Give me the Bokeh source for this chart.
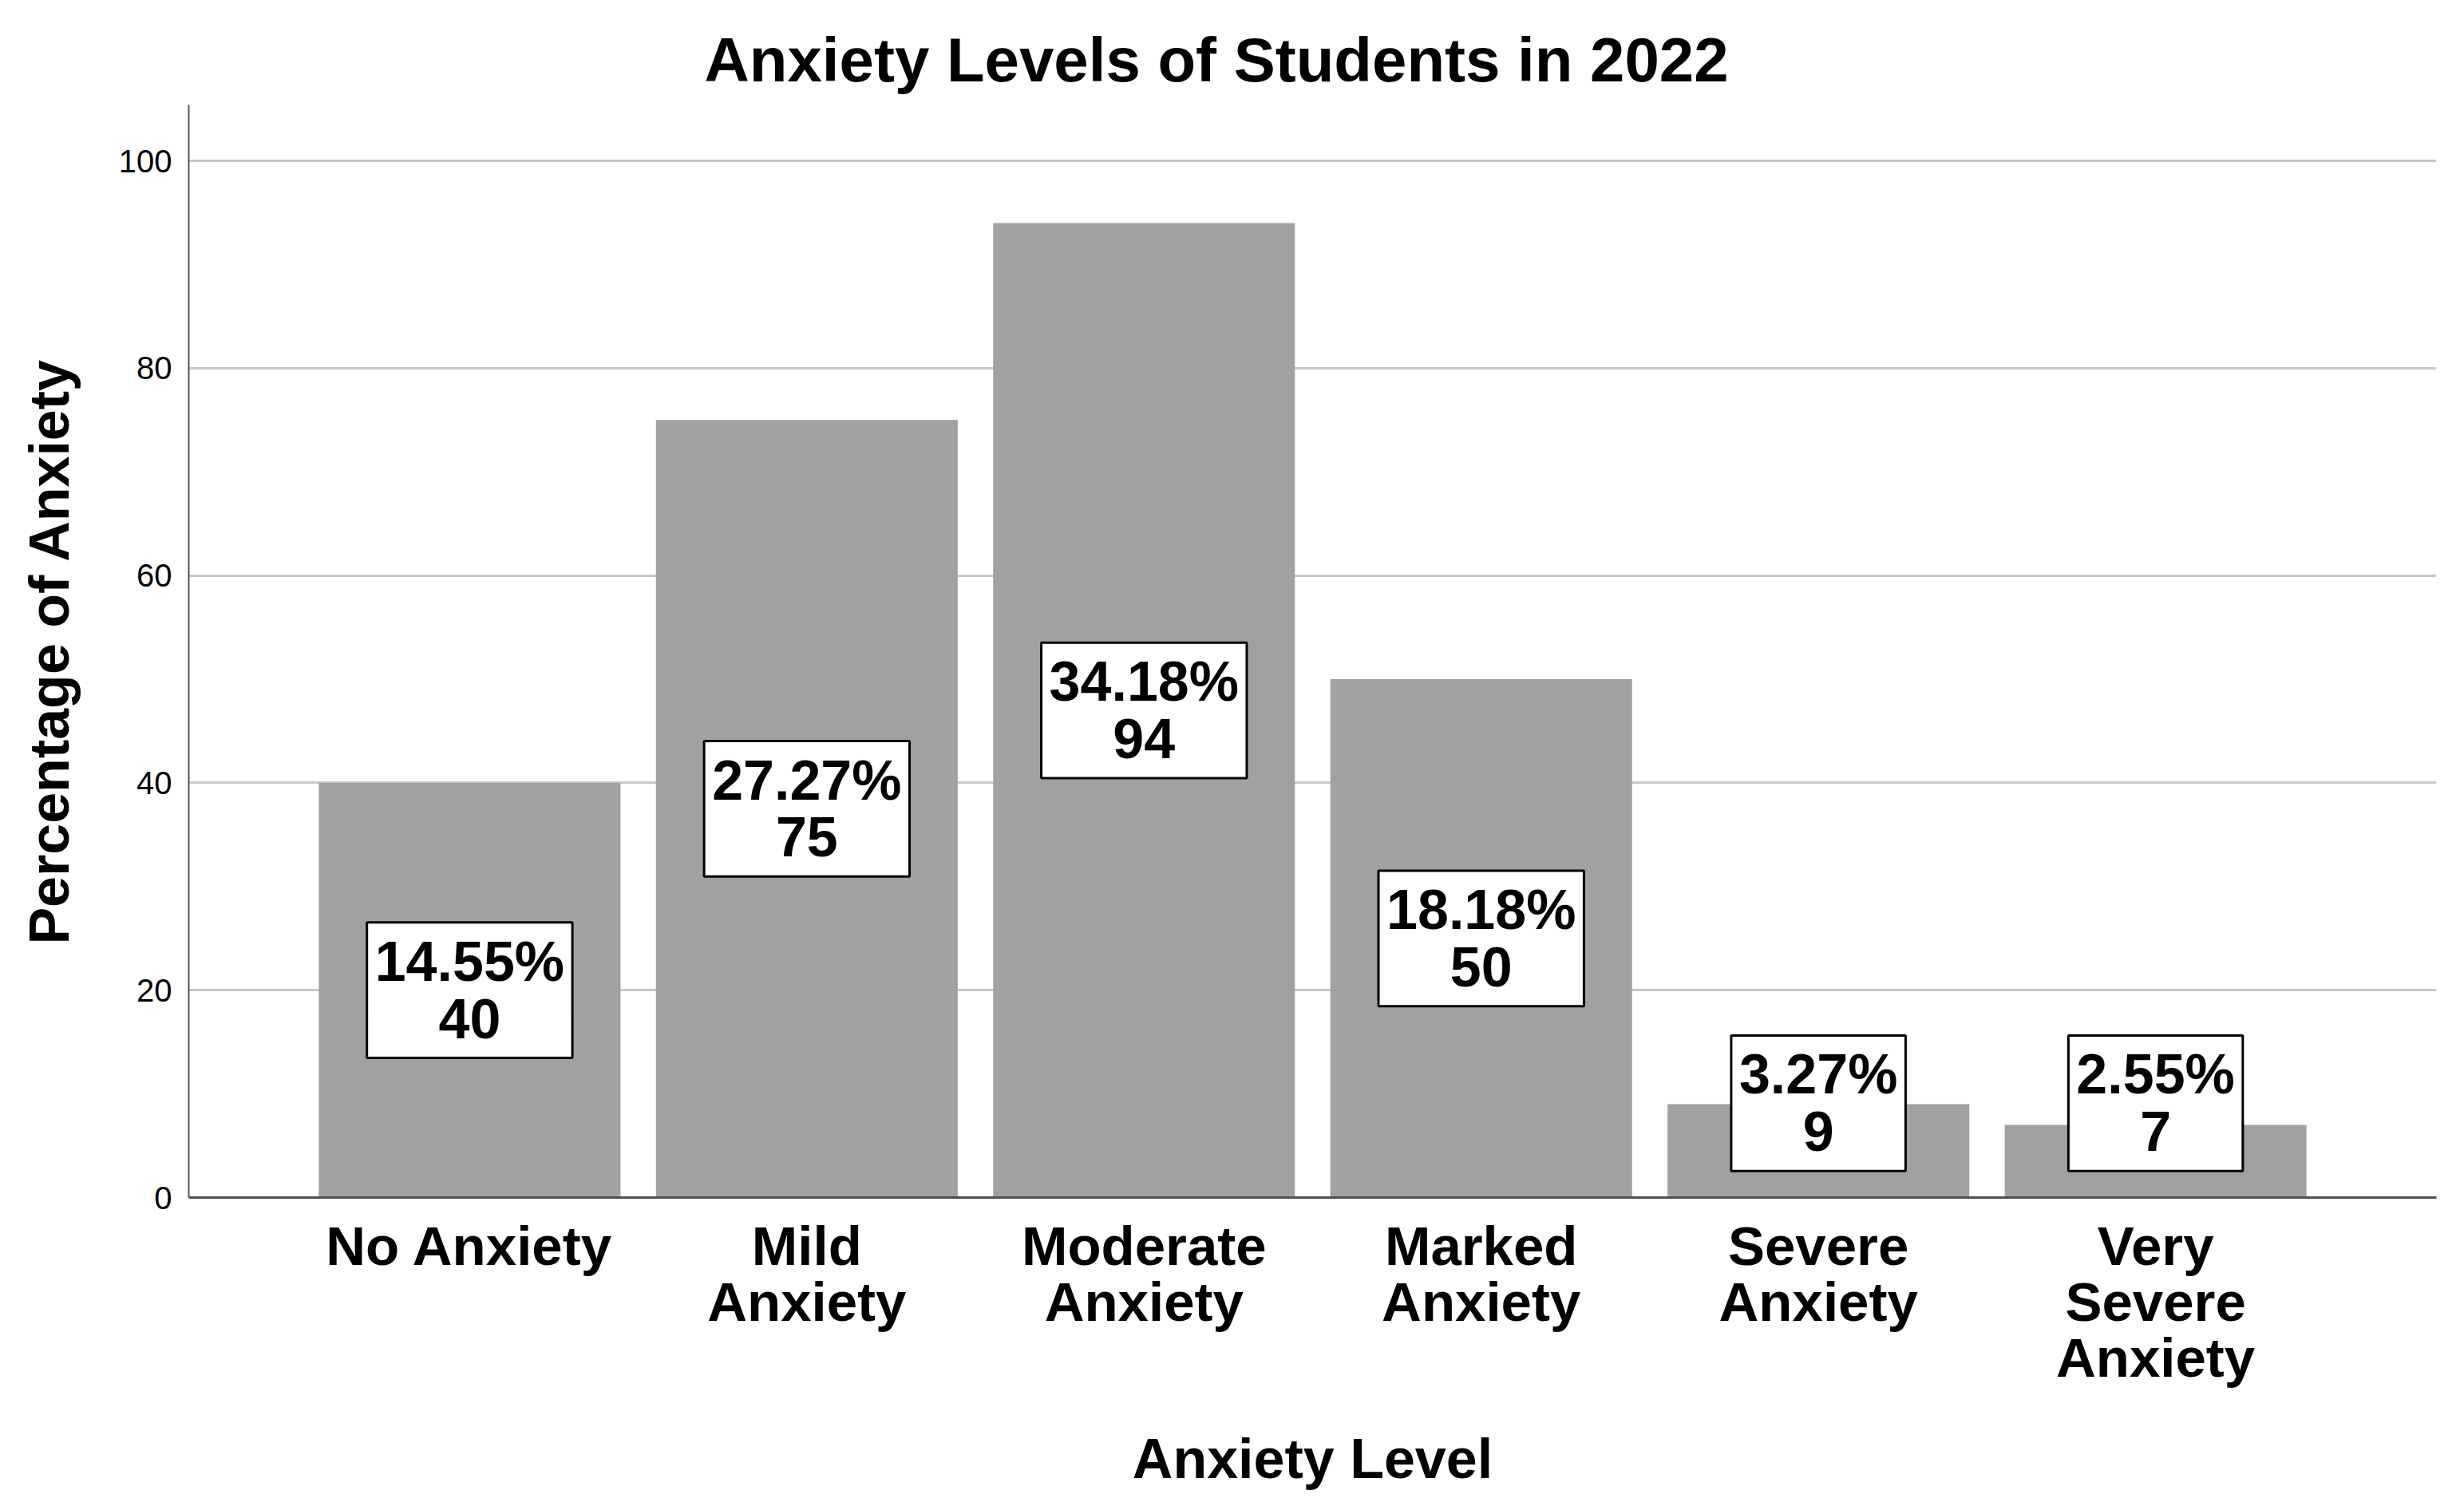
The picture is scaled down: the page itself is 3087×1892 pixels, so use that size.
from bokeh.plotting import figure
from bokeh.models import FactorRange, FixedTicker, Range1d, ColumnDataSource
from bokeh.core.properties import value
from bokeh.embed import file_html
from bokeh.resources import INLINE

# ---- data ----
categories = ["No Anxiety", "Mild\nAnxiety", "Moderate\nAnxiety",
              "Marked\nAnxiety", "Severe\nAnxiety", "Very\nSevere\nAnxiety"]
counts = [40, 75, 94, 50, 9, 7]
percents = ["14.55%", "27.27%", "34.18%", "18.18%", "3.27%", "2.55%"]
y_ticks = [0, 20, 40, 60, 80, 100]

FONT = "Liberation Sans"
min_label_y = 9.1
label_text = [f"{pc}\n{c}" for pc, c in zip(percents, counts)]
label_y = [max(c / 2, min_label_y) for c in counts]

src = ColumnDataSource(dict(x=categories, top=counts, label=label_text, ly=label_y))

p = figure(width=3071, height=1876,
           x_range=FactorRange(factors=categories, range_padding=0.111),
           y_range=Range1d(0, 105.4),
           output_backend="svg", toolbar_location=None,
           min_border_left=236, min_border_right=19,
           min_border_top=131, min_border_bottom=376)

p.title.text = "Anxiety Levels of Students in 2022"
p.title.text_font = FONT
p.title.text_font_size = "78px"
p.title.text_font_style = "bold"
p.title.text_color = "black"
p.title.align = "left"
p.title.offset = 646
p.title.standoff = 26

p.outline_line_color = None
p.background_fill_color = "white"

p.vbar(x="x", top="top", width=0.895, source=src,
       fill_color="#a1a1a1", line_color=None)

p.text(x="x", y="ly", text="label", source=src,
       text_font=value(FONT), text_font_style="bold", text_font_size="70px",
       text_align="center", text_baseline="middle", text_color="black",
       text_line_height=0.92,
       background_fill_color="white", border_line_color="black",
       border_line_width=3, padding=10)

# grid
p.xgrid.grid_line_color = None
p.ygrid.grid_line_color = "#c8c8c8"
p.ygrid.grid_line_width = 3
p.yaxis.ticker = FixedTicker(ticks=y_ticks)

# y axis
p.yaxis.axis_label = "Percentage of Anxiety"
p.yaxis.axis_label_text_font = FONT
p.yaxis.axis_label_text_font_style = "bold"
p.yaxis.axis_label_text_font_size = "70px"
p.yaxis.axis_label_text_color = "black"
p.yaxis.axis_label_standoff = 45
p.yaxis.major_label_text_font = FONT
p.yaxis.major_label_text_font_size = "40px"
p.yaxis.major_label_text_color = "black"
p.yaxis.major_label_standoff = 15
p.yaxis.major_tick_line_color = None
p.yaxis.minor_tick_line_color = None
p.yaxis.axis_line_color = "#555555"
p.yaxis.axis_line_width = 2

# x axis
p.xaxis.axis_label = "Anxiety Level"
p.xaxis.axis_label_text_font = FONT
p.xaxis.axis_label_text_font_style = "bold"
p.xaxis.axis_label_text_font_size = "70px"
p.xaxis.axis_label_text_color = "black"
p.xaxis.axis_label_standoff = 46
p.xaxis.major_label_text_font = FONT
p.xaxis.major_label_text_font_style = "bold"
p.xaxis.major_label_text_font_size = "69px"
p.xaxis.major_label_text_color = "black"
p.xaxis.major_label_text_line_height = 0.91
p.xaxis.major_label_standoff = 16
p.xaxis.major_tick_line_color = None
p.xaxis.minor_tick_line_color = None
p.xaxis.axis_line_color = "#505050"
p.xaxis.axis_line_width = 3

open("out.html", "w").write(file_html(p, INLINE))
